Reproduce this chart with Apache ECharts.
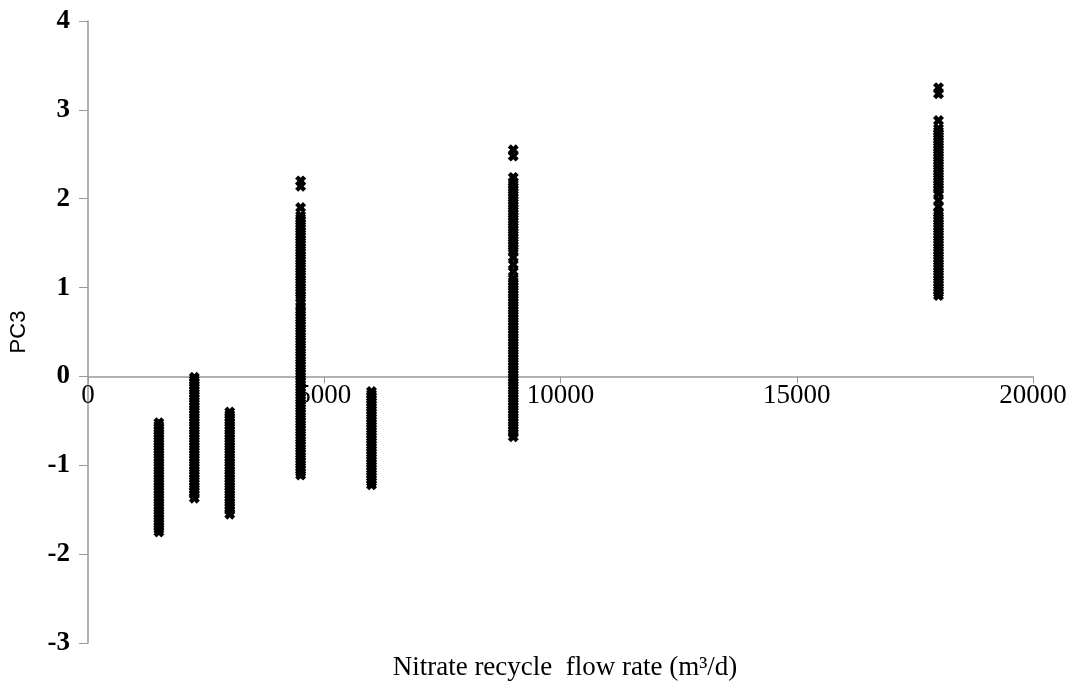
<!DOCTYPE html>
<html>
<head>
<meta charset="utf-8">
<script src="https://cdn.jsdelivr.net/npm/echarts@6/dist/echarts.min.js"></script>
<style>html,body{margin:0;padding:0;background:#fff;}#c{width:1077px;height:681px;}</style>
</head>
<body>
<div id="c"></div>
<script>
// Nitrate recycle flow rates (m3/d) of each column of points
const flowRates = [1500, 2250, 3000, 4500, 6000, 9000, 18000];
// PC3 values
const pc3At1500 = [-0.52,-0.55,-0.58,-0.61,-0.64,-0.67,-0.70,-0.73,-0.76,-0.79,-0.82,-0.85,-0.88,-0.91,-0.94,-0.97,-1.00,-1.03,-1.06,-1.09,-1.12,-1.15,-1.18,-1.21,-1.24,-1.27,-1.30,-1.33,-1.36,-1.39,-1.42,-1.45,-1.48,-1.51,-1.54,-1.57,-1.60,-1.63,-1.66,-1.69,-1.72,-1.75];
const pc3At2250 = [-0.01,-0.04,-0.07,-0.10,-0.13,-0.16,-0.19,-0.22,-0.25,-0.28,-0.31,-0.34,-0.37,-0.40,-0.43,-0.46,-0.49,-0.52,-0.55,-0.58,-0.61,-0.64,-0.67,-0.70,-0.73,-0.76,-0.79,-0.82,-0.85,-0.88,-0.91,-0.94,-0.97,-1.00,-1.03,-1.06,-1.09,-1.12,-1.15,-1.18,-1.21,-1.24,-1.27,-1.30,-1.33,-1.37];
const pc3At3000 = [-0.40,-0.43,-0.46,-0.49,-0.52,-0.55,-0.58,-0.61,-0.64,-0.67,-0.70,-0.73,-0.76,-0.79,-0.82,-0.85,-0.88,-0.91,-0.94,-0.97,-1.00,-1.03,-1.06,-1.09,-1.12,-1.15,-1.18,-1.21,-1.24,-1.27,-1.30,-1.33,-1.36,-1.39,-1.42,-1.45,-1.48,-1.51,-1.55];
const pc3At4500 = [2.20,2.14,1.90,1.81,1.78,1.75,1.72,1.69,1.66,1.63,1.60,1.57,1.54,1.51,1.48,1.45,1.42,1.39,1.36,1.33,1.30,1.27,1.24,1.21,1.18,1.15,1.12,1.09,1.06,1.03,1.00,0.97,0.94,0.91,0.88,0.83,0.79,0.75,0.72,0.69,0.66,0.63,0.60,0.57,0.54,0.51,0.48,0.45,0.42,0.39,0.36,0.33,0.30,0.27,0.24,0.21,0.18,0.15,0.12,0.09,0.06,0.03,0.00,-0.03,-0.06,-0.09,-0.12,-0.15,-0.18,-0.21,-0.24,-0.27,-0.30,-0.33,-0.36,-0.39,-0.42,-0.45,-0.48,-0.51,-0.54,-0.57,-0.60,-0.63,-0.66,-0.69,-0.72,-0.75,-0.78,-0.81,-0.84,-0.87,-0.90,-0.93,-0.96,-0.99,-1.02,-1.05,-1.08,-1.11];
const pc3At6000 = [-0.17,-0.20,-0.23,-0.26,-0.29,-0.32,-0.35,-0.38,-0.41,-0.44,-0.47,-0.50,-0.53,-0.56,-0.59,-0.62,-0.65,-0.68,-0.71,-0.74,-0.77,-0.80,-0.83,-0.86,-0.89,-0.92,-0.95,-0.98,-1.01,-1.04,-1.07,-1.10,-1.13,-1.16,-1.19,-1.22];
const pc3At9000 = [2.55,2.48,2.24,2.19,2.16,2.13,2.10,2.07,2.04,2.01,1.98,1.95,1.92,1.89,1.86,1.83,1.80,1.77,1.74,1.71,1.68,1.65,1.62,1.59,1.56,1.53,1.50,1.47,1.44,1.41,1.34,1.26,1.18,1.10,1.07,1.04,1.01,0.98,0.95,0.92,0.89,0.86,0.83,0.80,0.77,0.74,0.71,0.68,0.65,0.62,0.59,0.56,0.53,0.50,0.47,0.44,0.41,0.38,0.35,0.32,0.29,0.26,0.23,0.20,0.17,0.14,0.11,0.08,0.05,0.02,-0.01,-0.04,-0.07,-0.10,-0.13,-0.16,-0.19,-0.22,-0.25,-0.28,-0.31,-0.34,-0.37,-0.40,-0.43,-0.46,-0.49,-0.52,-0.55,-0.58,-0.61,-0.64,-0.68];
const pc3At18000 = [3.25,3.18,2.88,2.79,2.76,2.73,2.70,2.67,2.64,2.61,2.58,2.55,2.52,2.49,2.46,2.43,2.40,2.37,2.34,2.31,2.28,2.25,2.22,2.19,2.16,2.13,2.10,2.06,1.98,1.91,1.84,1.81,1.78,1.75,1.72,1.69,1.66,1.63,1.60,1.57,1.54,1.51,1.48,1.45,1.42,1.39,1.36,1.33,1.30,1.27,1.24,1.21,1.18,1.15,1.12,1.09,1.06,1.03,1.00,0.97,0.94,0.91];
const pc3Columns = [pc3At1500, pc3At2250, pc3At3000, pc3At4500, pc3At6000, pc3At9000, pc3At18000];

const points = [];
flowRates.forEach((fr, i) => pc3Columns[i].forEach(v => points.push([fr, v])));

const yMin = -3, yMax = 4;
const gridTop = 21, gridBottom = 38, chartH = 681;
const plotH = chartH - gridTop - gridBottom;
// shift the x axis up so it crosses the y axis at PC3 = 0
const xAxisOffset = -plotH * (0 - yMin) / (yMax - yMin);

const crossSymbol = 'path://M0,2.8L2.8,0L5,2.2L7.2,0L10,2.8L7.8,5L10,7.2L7.2,10L5,7.8L2.8,10L0,7.2L2.2,5Z';
const chart = echarts.init(document.getElementById('c'));
chart.setOption({
  animation: false,
  backgroundColor: '#fff',
  title: {
    text: 'Nitrate recycle  flow rate (m\u00b3/d)',
    left: 560, top: 649, textAlign: 'center',
    textStyle: {fontFamily: 'Liberation Serif', fontSize: 27, fontWeight: 'normal', color: '#000'}
  },
  grid: {left: 86, right: 44, top: gridTop, bottom: gridBottom},
  xAxis: {
    type: 'value', min: 0, max: 20000, interval: 5000,
    offset: xAxisOffset,
    axisLine: {onZero: false, lineStyle: {color: '#999', width: 1.5}},
    axisTick: {show: true, length: 7, lineStyle: {color: '#999'}},
    splitLine: {show: false},
    axisLabel: {fontFamily: 'Liberation Serif', fontSize: 27, color: '#000', margin: 6,
      formatter: v => String(v)}
  },
  yAxis: {
    type: 'value', min: yMin, max: yMax, interval: 1,
    name: 'PC3', nameLocation: 'middle', nameGap: 58, nameRotate: 90,
    nameTextStyle: {fontFamily: 'Liberation Sans', fontSize: 22, color: '#000'},
    axisLine: {show: true, lineStyle: {color: '#999', width: 1.5}},
    axisTick: {show: true, length: 9, lineStyle: {color: '#999'}},
    splitLine: {show: false},
    axisLabel: {fontFamily: 'Liberation Serif', fontSize: 27, fontWeight: 'bold', color: '#000', margin: 18}
  },
  series: [{
    type: 'scatter',
    data: points,
    symbol: crossSymbol,
    symbolSize: 11,
    itemStyle: {color: '#000', opacity: 1}
  }]
});
</script>
</body>
</html>
